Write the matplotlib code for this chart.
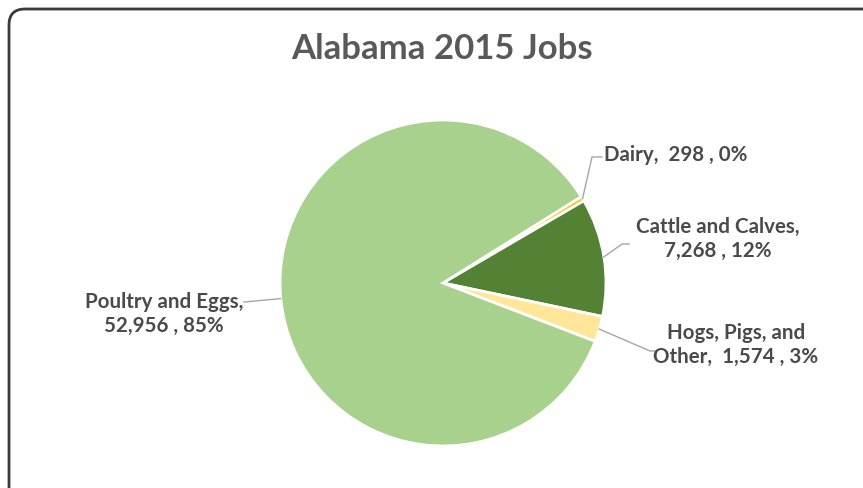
import matplotlib.pyplot as plt
import numpy as np
from matplotlib.patches import FancyBboxPatch

# jobs by commodity, in the order the wedges are laid out (clockwise)
categories = ["Dairy", "Cattle and Calves", "Hogs, Pigs, and Other", "Poultry and Eggs"]
jobs = [298, 7268, 1574, 52956]
pct_labels = ["0%", "12%", "3%", "85%"]
label_text = [
    "Dairy,  298 , 0%",
    "Cattle and Calves,\n7,268 , 12%",
    "Hogs, Pigs, and\nOther,  1,574 , 3%",
    "Poultry and Eggs,\n52,956 , 85%",
]
colors = ["#FFC000", "#548235", "#FFE699", "#A9D18E"]

plt.rcParams['font.family'] = ['Lato', 'DejaVu Sans']
title_color = '#595959'
text_color = '#4a4a4a'

W, H = 863, 489
fig = plt.figure(figsize=(W / 100, H / 100), dpi=100)
ax = fig.add_axes([0, 0, 1, 1])

# pixel-like data coords, y pointing up
cx, cy, r = 443, 205, 163
wedges, _ = ax.pie(jobs, colors=colors, startangle=32, counterclock=False,
                   center=(cx, cy), radius=r,
                   wedgeprops=dict(edgecolor='white', linewidth=2))
ax.set_xlim(0, W)
ax.set_ylim(0, H)
ax.set_aspect('equal')
ax.axis('off')

# outer rounded frame (runs off the right and bottom edges)
frame = FancyBboxPatch((9, -40), W + 40, H - 10 + 40,
                       boxstyle="round,pad=0,rounding_size=16",
                       fc='none', ec='#3a3a3a', lw=2, zorder=0)
ax.add_patch(frame)

ax.text(442, 440, "Alabama 2015 Jobs", ha='center', va='center',
        fontsize=25, fontweight='bold', color=title_color)

# label positions: (text x, text y, ha, elbow x, elbow y, line end x)
label_pos = [
    (604, 334, 'left', 592, 331, 602),
    (718, 250, 'center', 622, 244, 629),
    (736, 144, 'center', 650, 137, 656),
    (164, 175, 'center', 244, 186, 244),
]

for w, txt, (tx, ty, ha, ex, ey, lx) in zip(wedges, label_text, label_pos):
    mid = np.deg2rad((w.theta1 + w.theta2) / 2)
    px, py = cx + r * np.cos(mid), cy + r * np.sin(mid)
    ax.plot([px, ex, lx], [py, ey, ey], color='#A6A6A6', lw=1, zorder=1)
    ax.text(tx, ty, txt, ha=ha, va='center', multialignment='center',
            fontsize=14.8, fontweight='bold', color=text_color, linespacing=1.2)

fig.savefig('out.png', dpi=100)
